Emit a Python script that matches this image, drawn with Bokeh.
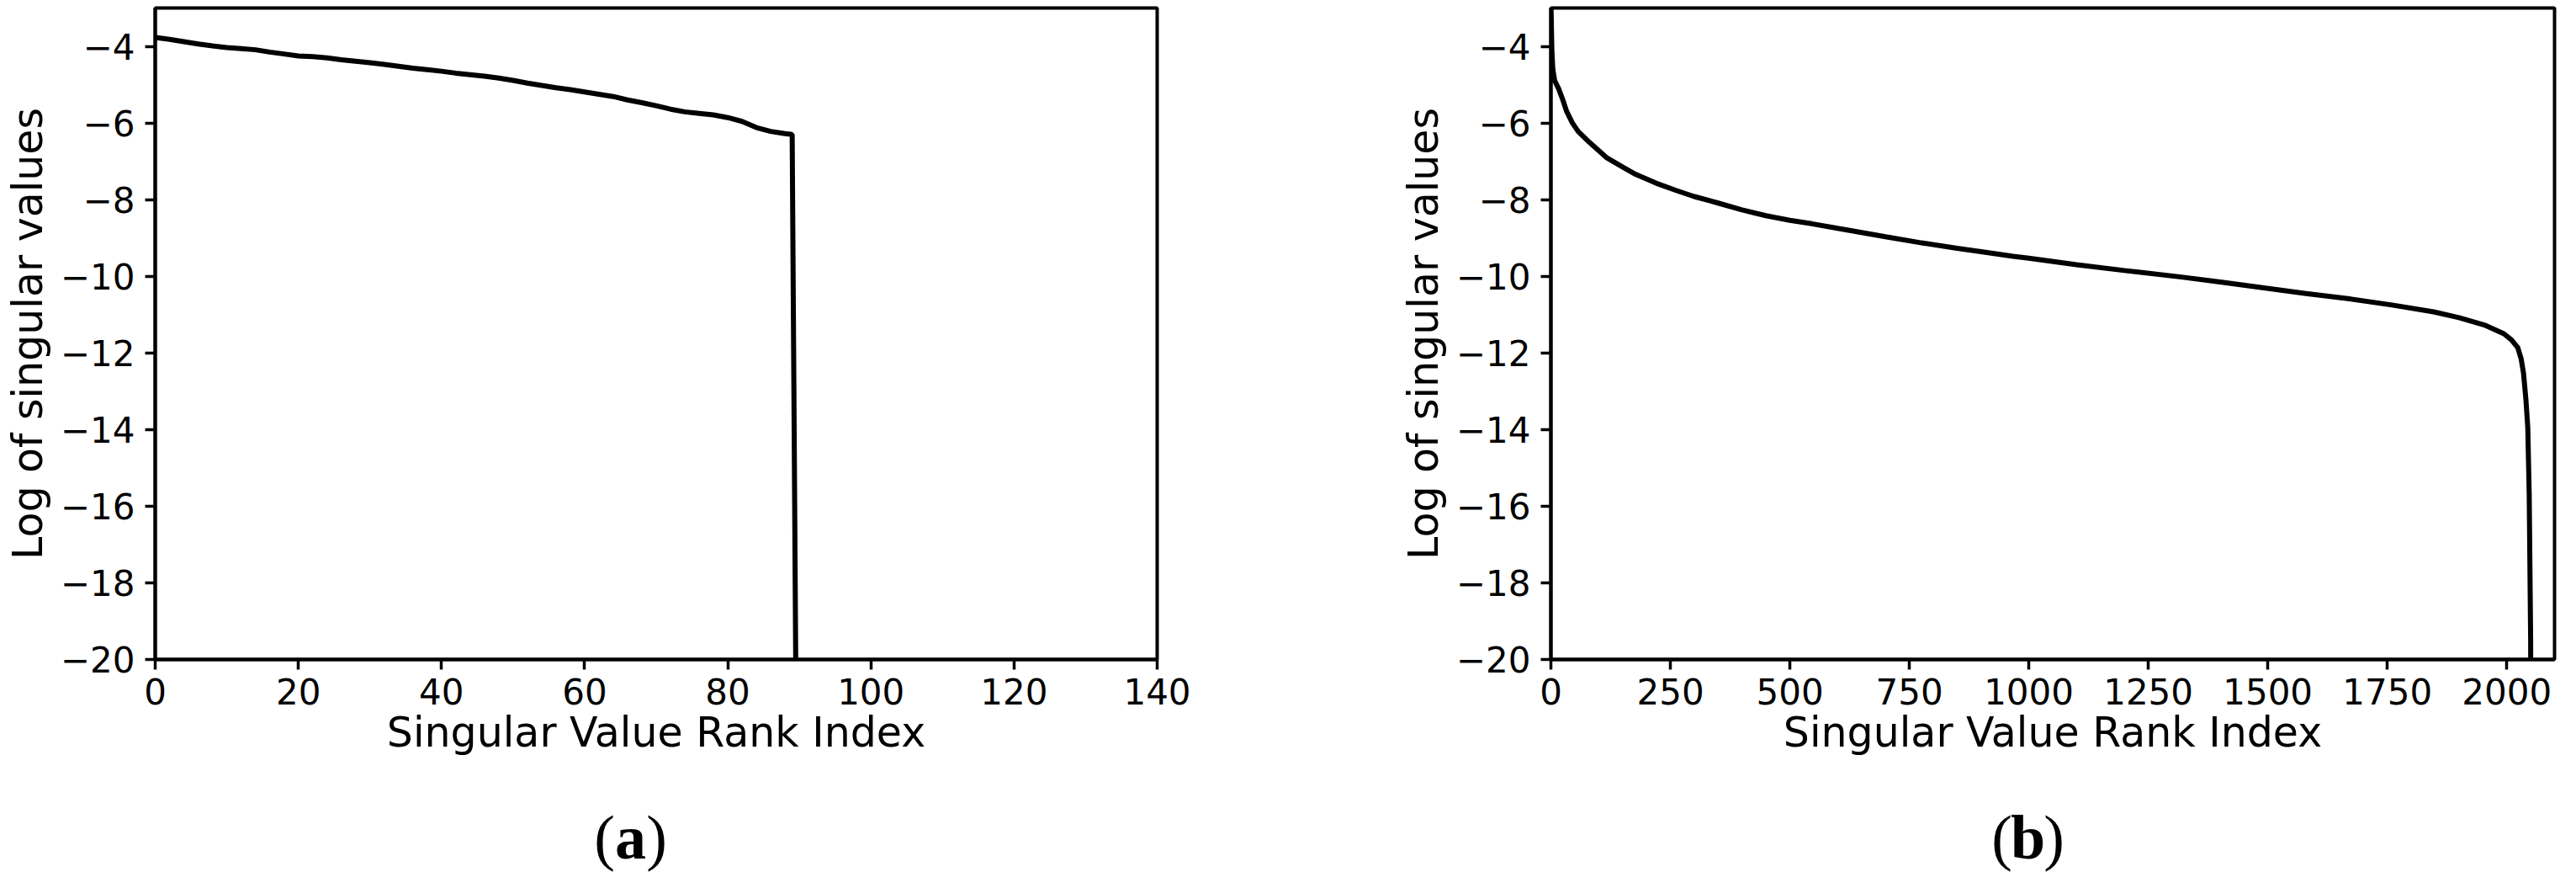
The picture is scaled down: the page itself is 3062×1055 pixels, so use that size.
from bokeh.plotting import figure
from bokeh.layouts import row, column
from bokeh.models import FixedTicker, Range1d, Label
from bokeh.embed import file_html
from bokeh.resources import INLINE

# ---------------- data ----------------
# (a) small matrix: log singular values vs rank index
rank_a = [0, 2, 4, 6, 8, 10, 12, 14, 16, 18, 20, 22, 24, 26, 28, 30, 32, 34, 36, 38,
          40, 42, 44, 46, 48, 50, 52, 54, 56, 58, 60, 62, 64, 66, 68, 70, 72, 74, 76,
          78, 80, 82, 84, 86, 88, 89, 90]
logsv_a = [-3.77, -3.82, -3.88, -3.94, -3.99, -4.03, -4.06, -4.09, -4.15, -4.20, -4.25,
           -4.27, -4.30, -4.35, -4.39, -4.43, -4.47, -4.52, -4.57, -4.61, -4.65, -4.70,
           -4.74, -4.78, -4.83, -4.89, -4.96, -5.02, -5.08, -5.13, -5.19, -5.25, -5.31,
           -5.40, -5.47, -5.55, -5.64, -5.71, -5.75, -5.79, -5.86, -5.96, -6.12, -6.22,
           -6.28, -6.30, -34.0]

# (b) large matrix
rank_b = [0, 2, 4, 8, 16, 25, 33, 45, 57, 80, 116, 150, 174, 220, 262, 300, 350, 400,
          450, 500, 546, 600, 650, 700, 771, 850, 900, 967, 1000, 1100, 1200, 1319, 1400,
          1495, 1580, 1671, 1760, 1847, 1900, 1953, 1994, 2010, 2023, 2030, 2035, 2040,
          2044, 2047, 2050, 2052]
logsv_b = [-2.8, -4.1, -4.6, -4.9, -5.1, -5.4, -5.7, -6.0, -6.22, -6.5, -6.9, -7.15,
           -7.32, -7.57, -7.76, -7.92, -8.09, -8.27, -8.42, -8.54, -8.63, -8.75, -8.86,
           -8.97, -9.12, -9.27, -9.36, -9.48, -9.53, -9.70, -9.85, -10.02, -10.15, -10.31,
           -10.45, -10.59, -10.75, -10.93, -11.08, -11.27, -11.50, -11.66, -11.86, -12.15,
           -12.52, -13.2, -13.95, -15.7, -19.5, -34.0]

y_ticks = [-20, -18, -16, -14, -12, -10, -8, -6, -4]
x_ticks_a = [0, 20, 40, 60, 80, 100, 120, 140]
x_ticks_b = [0, 250, 500, 750, 1000, 1250, 1500, 1750, 2000]

x_label = "Singular Value Rank Index"
y_label = "Log of singular values"
captions = ["a", "b"]

FONT = "DejaVu Sans"
TICK_SIZE = "42px"
LABEL_SIZE = "49px"
PLOT_H = 940
CAP_H = 1039 - PLOT_H


def make_panel(xs, ys, xr, xticks, fw, left_border, right_border):
    p = figure(width=left_border + fw + right_border, height=PLOT_H,
               frame_width=fw, frame_height=774, title=None,
               x_range=Range1d(*xr), y_range=Range1d(-20, -3),
               output_backend="svg", toolbar_location=None,
               min_border_left=left_border, min_border_right=right_border,
               min_border_top=9, min_border_bottom=PLOT_H - 9 - 774)
    p.line(xs, ys, line_color="black", line_width=6)

    p.xgrid.visible = False
    p.ygrid.visible = False
    p.outline_line_color = "black"
    p.outline_line_width = 4
    p.outline_line_alpha = 1.0
    p.background_fill_color = "white"
    p.border_fill_color = "white"

    p.xaxis.ticker = FixedTicker(ticks=xticks)
    p.yaxis.ticker = FixedTicker(ticks=y_ticks)
    p.yaxis.major_label_overrides = {t: ("\u2212" + str(-t)) for t in y_ticks}

    for ax in (p.xaxis[0], p.yaxis[0]):
        ax.axis_line_width = 4
        ax.axis_line_color = "black"
        ax.major_tick_line_width = 3.5
        ax.major_tick_line_color = "black"
        ax.major_tick_out = 12
        ax.major_tick_in = 0
        ax.minor_tick_line_color = None
        ax.major_label_text_font = FONT
        ax.major_label_text_font_size = TICK_SIZE
        ax.major_label_text_color = "black"
        ax.axis_label_text_font = FONT
        ax.axis_label_text_font_size = LABEL_SIZE
        ax.axis_label_text_font_style = "normal"
        ax.axis_label_text_color = "black"

    p.xaxis.axis_label = x_label
    p.yaxis.axis_label = y_label
    p.xaxis.major_label_standoff = 10
    p.yaxis.major_label_standoff = 12
    p.xaxis.axis_label_standoff = 2
    p.yaxis.axis_label_standoff = 7
    return p


def make_caption(width, cx, letter):
    c = figure(width=width, height=CAP_H, x_range=Range1d(0, width),
               y_range=Range1d(0, CAP_H), output_backend="svg", title=None,
               toolbar_location=None, min_border=0)
    c.axis.visible = False
    c.xgrid.visible = False
    c.ygrid.visible = False
    c.outline_line_color = None
    base = 45
    for txt, dx, style in (("(", -31, "normal"), (letter, 0, "bold"), (")", 31, "normal")):
        c.add_layout(Label(x=cx + dx, y=base, text=txt, text_font="Liberation Serif",
                           text_font_size="74px", text_font_style=style,
                           text_align="center", text_baseline="alphabetic",
                           text_color="black"))
    return c


p1 = make_panel(rank_a, logsv_a, (0, 140), x_ticks_a, 1191, 184, 125)
p2 = make_panel(rank_b, logsv_b, (0, 2100), x_ticks_b, 1193, 343, 10)
c1 = make_caption(1500, 749, captions[0])
c2 = make_caption(1546, 910, captions[1])

layout = column(row(p1, p2, spacing=0), row(c1, c2, spacing=0), spacing=0)
open("out.html", "w").write(file_html(layout, INLINE))
